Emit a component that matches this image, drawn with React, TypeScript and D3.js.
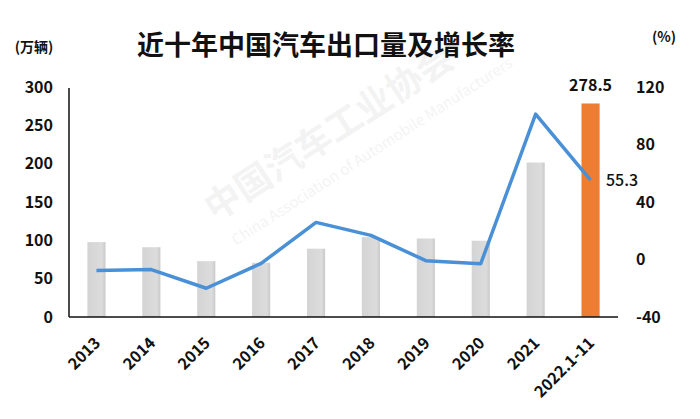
import React from "react";
import * as d3 from "d3";

const categories = ["2013", "2014", "2015", "2016", "2017", "2018", "2019", "2020", "2021", "2022.1-11"];
const exportsVol = [97.7, 91.0, 72.8, 70.8, 89.1, 104.1, 102.4, 99.5, 201.5, 278.5];
const growth = [-7.7, -7.0, -20.0, -2.7, 25.8, 16.8, -0.8, -2.9, 101.1, 55.3];
const leftTicks = [0, 50, 100, 150, 200, 250, 300];
const rightTicks = [-40, 0, 40, 80, 120];

const FONT = "'Noto Sans CJK SC', 'Noto Sans', sans-serif";

export default function App() {
  const W = 700, H = 419;
  const x0 = 69, x1 = 618, yTop = 87, yBot = 317;
  const x = d3.scaleBand<string>().domain(categories).range([x0, x1]).paddingInner(0.67).paddingOuter(0.335);
  const yL = d3.scaleLinear().domain([0, 300]).range([yBot, yTop]);
  const yR = d3.scaleLinear().domain([-40, 120]).range([yBot, yTop]);
  const cx = (c: string) => (x(c) as number) + x.bandwidth() / 2;
  const line = d3.line<number>().x((_, i) => cx(categories[i])).y((d) => yR(d));
  const last = categories.length - 1;

  return (
    <svg width={W} height={H} style={{ position: "absolute", left: 0, top: 0, background: "#fff" }} fontFamily={FONT}>
      <defs>
        <linearGradient id="gbar" x1="0" x2="1" y1="0" y2="0">
          <stop offset="0" stopColor="#d4d4d4" />
          <stop offset="0.8" stopColor="#dcdcdc" />
          <stop offset="1" stopColor="#c9c9c9" />
        </linearGradient>
      </defs>
      <g opacity={0.045} fill="#000">
        <text transform="translate(215,222) rotate(-33)" fontSize={36} fontWeight={700}>中国汽车工业协会</text>
        <text transform="translate(236,246) rotate(-33)" fontSize={15}>China Association of Automobile Manufacturers</text>
      </g>
      <text x={326} y={55} textAnchor="middle" fontSize={27} fontWeight={700} fill="#111">近十年中国汽车出口量及增长率</text>
      <text x={34} y={52} textAnchor="middle" fontSize={14} fontWeight={700} fill="#111">(万辆)</text>
      <text x={664} y={42} textAnchor="middle" fontSize={14} fontWeight={700} fill="#111">(%)</text>

      {exportsVol.map((v, i) => (
        <rect key={categories[i]} x={x(categories[i])} y={yL(v)} width={x.bandwidth()} height={yBot - yL(v)}
          fill={i === last ? "#ed7d31" : "url(#gbar)"} />
      ))}

      <line x1={x0} x2={x0} y1={yTop + 1} y2={yBot} stroke="#111" strokeWidth={1.5} />
      <line x1={x0} x2={x1} y1={yBot} y2={yBot} stroke="#111" strokeWidth={1.5} />

      {leftTicks.map((t) => (
        <text key={t} x={53} y={yL(t)} dy="0.35em" textAnchor="end" fontSize={16} fontWeight={700} fill="#111">{t}</text>
      ))}
      {rightTicks.map((t) => (
        <text key={t} x={636} y={yR(t)} dy="0.35em" textAnchor="start" fontSize={16} fontWeight={700} fill="#111">{t}</text>
      ))}

      <path d={line(growth) || ""} fill="none" stroke="#4a90d6" strokeWidth={3.5} strokeLinejoin="round" />

      <text x={cx(categories[last])} y={yL(exportsVol[last]) - 12} textAnchor="middle" fontSize={16} fontWeight={700} fill="#111">{exportsVol[last]}</text>
      <text x={606} y={yR(growth[last])} dy="0.35em" textAnchor="start" fontSize={16} fontWeight={500} fill="#111">{growth[last]}</text>

      {categories.map((c) => (
        <text key={c} transform={`translate(${cx(c) + 5},${yBot + 27}) rotate(-45)`} textAnchor="end" fontSize={16} fontWeight={700} fill="#111">{c}</text>
      ))}
    </svg>
  );
}
